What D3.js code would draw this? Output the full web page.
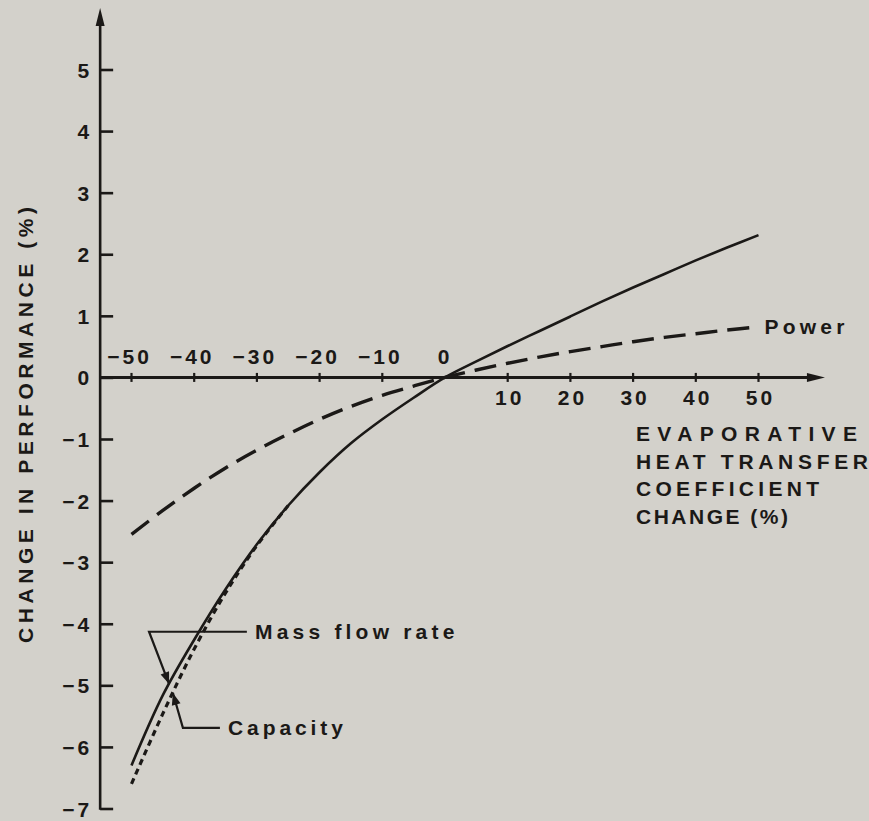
<!DOCTYPE html>
<html>
<head>
<meta charset="utf-8">
<script src="https://cdn.jsdelivr.net/npm/d3@7/dist/d3.min.js"></script>
<style>
  html, body { margin: 0; padding: 0; background: #d3d1cb; }
  svg { display: block; }
  text { font-family: "Liberation Sans", Arial, Helvetica, sans-serif; font-weight: bold; fill: #1b1917; }
</style>
</head>
<body>
<svg id="chart" width="869" height="821"></svg>
<script>
// Change in evaporative heat transfer coefficient (%)
const changePct = [-50, -45, -40, -35, -30, -25, -20, -15, -10, -5, 0, 5, 10, 15, 20, 25, 30, 35, 40, 45, 50];
// Mass flow rate (solid); capacity follows it except at large reductions
const massFlowRate = [-6.30, -5.16, -4.26, -3.44, -2.71, -2.08, -1.54, -1.07, -0.68, -0.33, 0, 0.26, 0.51, 0.75, 0.99, 1.23, 1.46, 1.68, 1.90, 2.11, 2.31];
// Compressor power (dashed)
const power = [-2.55, -2.16, -1.80, -1.47, -1.18, -0.92, -0.68, -0.47, -0.29, -0.14, 0, 0.12, 0.23, 0.33, 0.42, 0.50, 0.58, 0.65, 0.71, 0.77, 0.82];
// Capacity (dotted), drawn where it departs from the mass flow rate curve
const capacityPct = [-50, -45, -40, -35, -30, -25];
const capacity = [-6.60, -5.46, -4.41, -3.50, -2.73, -2.08];

// Tick labels
const xTicksAbove = [-50, -40, -30, -20, -10, 0];
const xTicksBelow = [10, 20, 30, 40, 50];
const yTicks = [-7, -6, -5, -4, -3, -2, -1, 0, 1, 2, 3, 4, 5];

const ink = "#1b1917";
const svg = d3.select("#chart");
svg.append("rect").attr("width", 869).attr("height", 821).attr("fill", "#d3d1cb");

const x = d3.scaleLinear().domain([-50, 50]).range([131.5, 758.5]);
const y = d3.scaleLinear().domain([-7, 5]).range([808.5, 69.5]);

const yAxisAt = -55;     // x value where the vertical axis stands
const xAxisEnd = 60.6;   // x value of the horizontal arrow tip
const yAxisTop = 6.0;    // y value of the vertical arrow tip

const fmt = v => (v < 0 ? "\u2212" + Math.abs(v) : String(v));

// ---- vertical axis ----
const gy = svg.append("g").attr("transform", `translate(${x(yAxisAt)},0)`);
gy.call(d3.axisRight(y).tickValues(yTicks).tickSize(13).tickSizeOuter(0).tickFormat(fmt));
gy.select(".domain").remove();
gy.selectAll(".tick line").attr("stroke", ink).attr("stroke-width", 2.6);
gy.selectAll(".tick text")
  .attr("x", -8).attr("dy", "0.36em")
  .attr("text-anchor", "end")
  .attr("font-size", 21).attr("letter-spacing", 3)
  .attr("fill", ink);
gy.append("line")
  .attr("x1", 0).attr("x2", 0)
  .attr("y1", y(-7) + 1.3).attr("y2", y(yAxisTop) + 14)
  .attr("stroke", ink).attr("stroke-width", 2.6);
gy.append("path")
  .attr("d", `M0,${y(yAxisTop)} L4.5,${y(yAxisTop) + 18} L-4.5,${y(yAxisTop) + 18} Z`)
  .attr("fill", ink);

// ---- horizontal axis ----
const gx = svg.append("g").attr("transform", `translate(0,${y(0)})`);
gx.append("line")
  .attr("x1", x(yAxisAt)).attr("x2", x(xAxisEnd) - 14)
  .attr("y1", 0).attr("y2", 0)
  .attr("stroke", ink).attr("stroke-width", 3);
gx.append("path")
  .attr("d", `M${x(xAxisEnd)},0 L${x(xAxisEnd) - 18},-4.5 L${x(xAxisEnd) - 18},4.5 Z`)
  .attr("fill", ink);
const tickVals = xTicksAbove.concat(xTicksBelow).filter(v => v !== 0);
gx.selectAll("line.tick").data(tickVals).join("line")
  .attr("class", "tick")
  .attr("x1", d => x(d)).attr("x2", d => x(d))
  .attr("y1", -4.5).attr("y2", 4.5)
  .attr("stroke", ink).attr("stroke-width", 2.2);
gx.selectAll("text.above").data(xTicksAbove).join("text")
  .attr("class", "above")
  .attr("x", d => x(d) + (d < 0 ? -2 : 0))
  .attr("y", -13)
  .attr("text-anchor", "middle")
  .attr("font-size", 21).attr("letter-spacing", 3)
  .text(fmt);
gx.selectAll("text.below").data(xTicksBelow).join("text")
  .attr("class", "below")
  .attr("x", d => x(d) + 2)
  .attr("y", 28)
  .attr("text-anchor", "middle")
  .attr("font-size", 21).attr("letter-spacing", 3)
  .text(fmt);

// ---- axis titles ----
svg.append("text")
  .attr("transform", "translate(33,425) rotate(-90)")
  .attr("text-anchor", "middle")
  .attr("font-size", 21)
  .attr("textLength", 436).attr("lengthAdjust", "spacing")
  .text("CHANGE IN PERFORMANCE (%)");

const xTitle = ["EVAPORATIVE", "HEAT TRANSFER", "COEFFICIENT", "CHANGE (%)"];
const xTitleWidths = [221, 232, 183, 152];
svg.selectAll("text.xtitle").data(xTitle).join("text")
  .attr("class", "xtitle")
  .attr("x", 636)
  .attr("y", (d, i) => 441 + i * 27.7)
  .attr("font-size", 21)
  .attr("textLength", (d, i) => xTitleWidths[i]).attr("lengthAdjust", "spacing")
  .text(d => d);

// ---- curves ----
const line = d3.line().x(d => x(d[0])).y(d => y(d[1])).curve(d3.curveCatmullRom.alpha(0.5));

svg.append("path")
  .datum(d3.zip(capacityPct, capacity))
  .attr("d", line).attr("fill", "none")
  .attr("stroke", ink).attr("stroke-width", 3.2)
  .attr("stroke-dasharray", "6,4.5");

svg.append("path")
  .datum(d3.zip(changePct, massFlowRate))
  .attr("d", line).attr("fill", "none")
  .attr("stroke", ink).attr("stroke-width", 2.6);

svg.append("path")
  .datum(d3.zip(changePct, power))
  .attr("d", line).attr("fill", "none")
  .attr("stroke", ink).attr("stroke-width", 3.4)
  .attr("stroke-dasharray", "22,10");

// ---- labels with leaders ----
const interp = (xs, ys, v) => {
  const i = d3.bisectLeft(xs, v);
  const t = (v - xs[i - 1]) / (xs[i] - xs[i - 1]);
  return ys[i - 1] + t * (ys[i] - ys[i - 1]);
};

function arrowHead(tipX, tipY, fromX, fromY) {
  const a = Math.atan2(tipY - fromY, tipX - fromX);
  const L = 12, W = 4.5;
  const bx = tipX - L * Math.cos(a), by = tipY - L * Math.sin(a);
  const px = -Math.sin(a) * W, py = Math.cos(a) * W;
  svg.append("path")
    .attr("d", `M${tipX},${tipY} L${bx + px},${by + py} L${bx - px},${by - py} Z`)
    .attr("fill", ink);
}

// Power
svg.append("text")
  .attr("x", x(50) + 6).attr("y", y(0.82) + 7)
  .attr("font-size", 21).attr("letter-spacing", 4.2)
  .text("Power");

// Mass flow rate
{
  const elbowX = x(-47.2), elbowY = y(-4.13);
  const tipX = x(-44), tipY = y(interp(changePct, massFlowRate, -44));
  svg.append("path")
    .attr("d", `M${x(-31.6)},${elbowY} H${elbowX} L${tipX},${tipY}`)
    .attr("fill", "none").attr("stroke", ink).attr("stroke-width", 2.2);
  arrowHead(tipX, tipY, elbowX, elbowY);
  svg.append("text")
    .attr("x", x(-30.3)).attr("y", elbowY + 7.5)
    .attr("font-size", 21).attr("letter-spacing", 4.2)
    .text("Mass flow rate");
}

// Capacity
{
  const elbowX = x(-41.8), elbowY = y(-5.69);
  const tipX = x(-43.4), tipY = y(interp(capacityPct, capacity, -43.4));
  svg.append("path")
    .attr("d", `M${x(-35.9)},${elbowY} H${elbowX} L${tipX},${tipY}`)
    .attr("fill", "none").attr("stroke", ink).attr("stroke-width", 2.2);
  arrowHead(tipX, tipY, elbowX, elbowY);
  svg.append("text")
    .attr("x", x(-34.6)).attr("y", elbowY + 7.5)
    .attr("font-size", 21).attr("letter-spacing", 3.9)
    .text("Capacity");
}
</script>
</body>
</html>
